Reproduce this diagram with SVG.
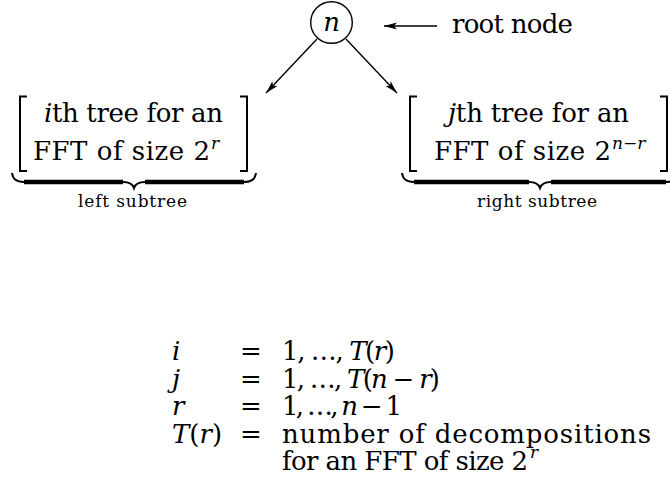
<svg xmlns="http://www.w3.org/2000/svg" width="670" height="482" viewBox="0 0 670 482">
<defs>
<style>
text{font-family:'DejaVu Serif',serif;fill:#000}
.m{font-size:26px}
.s{font-size:17px}
.l{font-size:17px}
.b{font-size:26px}
.i{font-style:italic}
.ln{stroke:#000;stroke-width:1.4;fill:none}
.br{stroke:#000;stroke-width:2;fill:none}
.bar{stroke:#000;stroke-width:4.4;fill:none}
</style>
<marker id="ah" markerUnits="userSpaceOnUse" markerWidth="14" markerHeight="9" refX="13" refY="4.5" orient="auto">
<path d="M0,1 L13,4.5 L0,8 L3,4.5 z" fill="#000"/>
</marker>
</defs>
<rect width="670" height="482" fill="#fff"/>

<g id="root">
<circle cx="331.5" cy="22.5" r="20.8" class="ln"/>
<text class="m i" x="331.5" y="31" text-anchor="middle">n</text>
</g>

<g id="root-label">
<text class="m" x="452" y="33" textLength="121">root node</text>
</g>

<g id="left">
<path class="br" d="M27,96.5 H20 V171 H27"/>
<path class="br" d="M240,96.5 H247 V171 H240"/>
<text class="m" x="44" y="122" textLength="179"><tspan class="i">i</tspan>th tree for an</text>
<text class="m" x="33" y="160" textLength="177">FFT of size 2</text>
<text class="s i" x="211" y="149">r</text>
<path class="br" d="M12,173 Q13,182 24,182 H123 Q132,182 134,188 Q136,182 145,182 H244 Q255,182 256,173"/>
<path class="bar" d="M24,182 H123 M145,182 H244"/>
<text class="l" x="132.5" y="207" text-anchor="middle" textLength="109">left subtree</text>
</g>

<g id="right">
<path class="br" d="M417,96.5 H410 V171 H417"/>
<path class="br" d="M660,96.5 H667 V171 H660"/>
<text class="m" x="448" y="122" textLength="181"><tspan class="i">j</tspan>th tree for an</text>
<text class="m" x="434" y="160" textLength="177">FFT of size 2</text>
<text class="s" x="612" y="149"><tspan class="i">n</tspan>−<tspan class="i">r</tspan></text>
<path class="br" d="M402,173 Q403,182 414,182 H529 Q538,182 540,188 Q542,182 551,182 H666 Q677,182 678,173"/>
<path class="bar" d="M414,182 H529 M551,182 H666"/>
<text class="l" x="537" y="207" text-anchor="middle" textLength="120">right subtree</text>
</g>

<g id="connectors">
<path class="ln" d="M437,26 L384,26" marker-end="url(#ah)"/>
<path class="ln" d="M317,39 L266,93" marker-end="url(#ah)"/>
<path class="ln" d="M346,39 L397,93" marker-end="url(#ah)"/>
</g>

<g id="definitions">
<text class="b i" x="172" y="360">i</text>
<text class="b" x="240" y="360">=</text>
<text class="b" x="282" y="360" textLength="113">1, …, <tspan class="i">T</tspan>(<tspan class="i">r</tspan>)</text>

<text class="b i" x="172" y="388">j</text>
<text class="b" x="240" y="388">=</text>
<text class="b" x="282" y="388" textLength="158">1, …, <tspan class="i">T</tspan>(<tspan class="i">n</tspan> − <tspan class="i">r</tspan>)</text>

<text class="b i" x="172" y="415">r</text>
<text class="b" x="240" y="415">=</text>
<text class="b" x="282" y="415" textLength="120">1, …, <tspan class="i">n</tspan> − 1</text>

<text class="b" x="172" y="443"><tspan class="i">T</tspan>(<tspan class="i">r</tspan>)</text>
<text class="b" x="240" y="443">=</text>
<text class="b" x="282" y="443" textLength="369">number of decompositions</text>

<text class="b" x="282" y="470" textLength="246">for an FFT of size 2</text>
<text class="s i" x="530" y="458">r</text>
</g>
</svg>
